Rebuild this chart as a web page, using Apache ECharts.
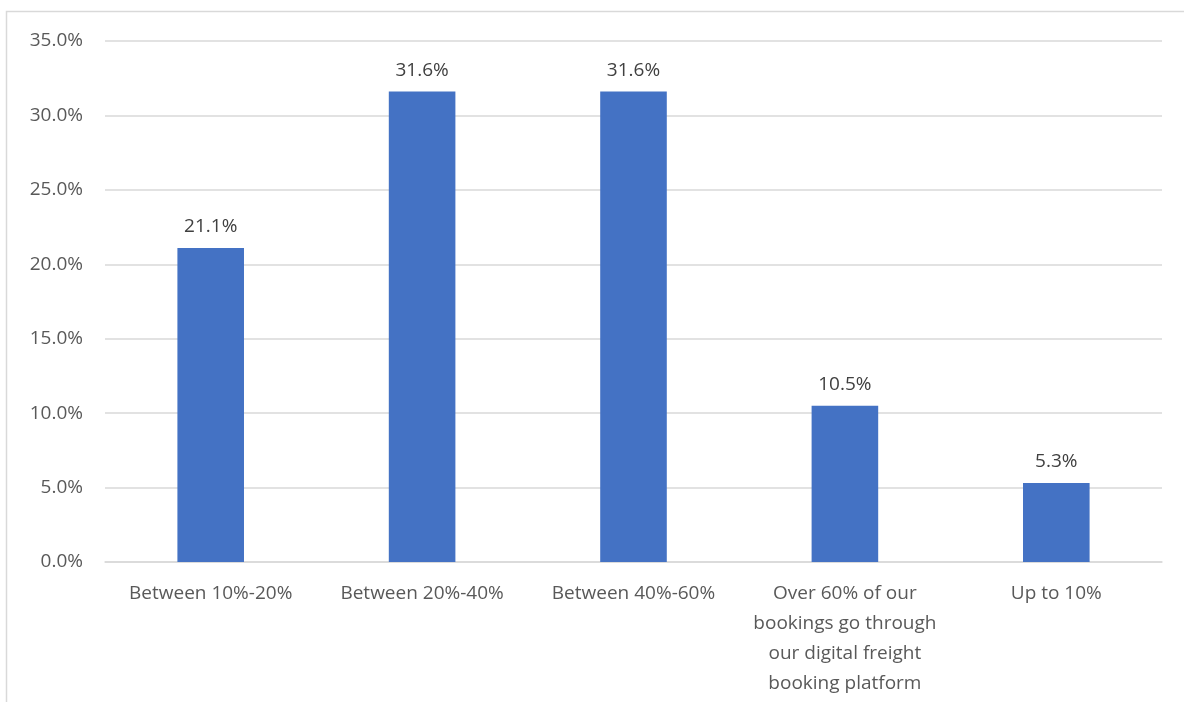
<!DOCTYPE html>
<html><head><meta charset="utf-8">
<script src="https://cdn.jsdelivr.net/npm/echarts@6/dist/echarts.min.js"></script>
<style>html,body{margin:0;padding:0;background:#fff}#c{width:1184px;height:702px}</style>
</head><body><div id="c"></div>
<script>
const categories = ["Between 10%-20%", "Between 20%-40%", "Between 40%-60%", "Over 60% of our\nbookings go through\nour digital freight\nbooking platform", "Up to 10%"];
const values = [21.1, 31.6, 31.6, 10.5, 5.3];
const yTicks = {min: 0, max: 35, interval: 5};
const chart = echarts.init(document.getElementById('c'));
const font = "'Open Sans', Arial, sans-serif";
chart.setOption({
  animation: false,
  graphic: [{type: 'rect', shape: {x: 6.5, y: 11.5, width: 1300, height: 900}, style: {fill: 'none', stroke: '#d9d9d9', lineWidth: 1.5}, silent: true}],
  grid: {left: 105, right: 22, top: 41, bottom: 140, containLabel: false},
  xAxis: {
    type: 'category', data: categories,
    axisLine: {lineStyle: {color: '#d9d9d9', width: 1.5}},
    axisTick: {show: false},
    axisLabel: {color: '#595959', fontSize: 19, fontFamily: font, lineHeight: 30, margin: 17, interval: 0}
  },
  yAxis: {
    type: 'value', min: yTicks.min, max: yTicks.max, interval: yTicks.interval,
    axisLine: {show: false}, axisTick: {show: false},
    splitLine: {lineStyle: {color: '#d9d9d9', width: 1.5}},
    axisLabel: {color: '#595959', fontSize: 19, fontFamily: font, margin: 22, formatter: v => v.toFixed(1) + '%'}
  },
  series: [{
    type: 'bar', data: values, barWidth: '31.5%',
    itemStyle: {color: '#4472c4'},
    label: {show: true, position: 'top', distance: 12, color: '#404040', fontSize: 19, fontFamily: font, formatter: p => p.value.toFixed(1) + '%'}
  }]
});
</script></body></html>
